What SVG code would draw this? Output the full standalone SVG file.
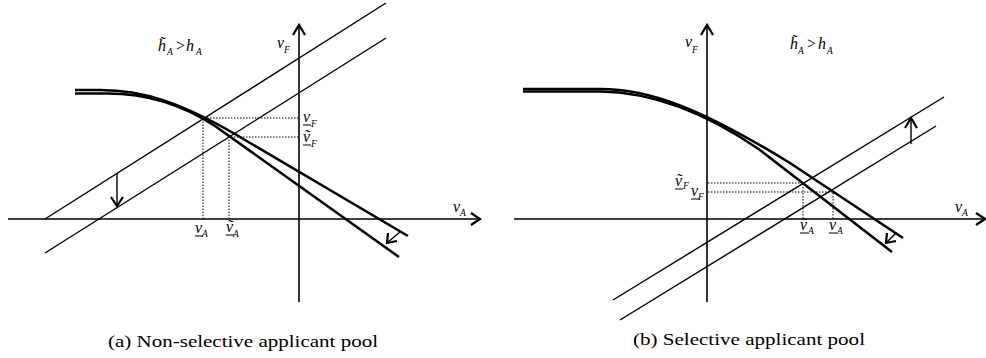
<svg xmlns="http://www.w3.org/2000/svg" width="986" height="358" viewBox="0 0 986 358">
<style>
.ln{stroke:#000;stroke-width:1.4;fill:none}
.ax{stroke:#000;stroke-width:1.6;fill:none}
.cv{stroke:#000;stroke-width:2.6;fill:none}
.dt{stroke:#000;stroke-width:1;stroke-dasharray:1.5 1.5;fill:none}
.ah{stroke:#000;stroke-width:2.2;fill:none;stroke-linejoin:miter}
.ul{stroke:#000;stroke-width:1;fill:none}
.m{font-family:"Liberation Serif",serif;font-style:italic;font-size:16px;fill:#000}
.s{font-size:9.5px}
.cap{font-family:"Liberation Serif",serif;font-size:17px;fill:#000}
</style>
<rect width="986" height="358" fill="#fff"/>

<g id="panel-a">
  <line class="ax" x1="8" y1="219" x2="479" y2="219"/>
  <polyline class="ah" points="471,213 480,219 471,225"/>
  <line class="ax" x1="299" y1="302" x2="299" y2="26"/>
  <polyline class="ah" points="293,35 299,25 305,35"/>
  <line class="ln" x1="45" y1="219" x2="386" y2="3"/>
  <line class="ln" x1="45" y1="253" x2="386" y2="38"/>
  <path class="cv" d="M75,90 L100,90 C140,90 180,100 250,143 L408,236"/>
  <path class="cv" d="M75,93.5 L105,93.5 C145,93 180,103 215,126 L399,257"/>
  <polyline class="dt" points="203,219 203,118 299,118"/>
  <polyline class="dt" points="229,219 229,137 299,137"/>
  <line class="ln" x1="117" y1="173" x2="117" y2="205"/>
  <polyline class="ah" points="111,197 117,206 123,197"/>
  <line class="ln" x1="400" y1="232" x2="388" y2="242"/>
  <polyline class="ah" points="388,233 387,243 397,241"/>

  <text class="m" x="158" y="51">h&#771;</text>
  <text class="m s" x="167" y="55">A</text>
  <text class="m" x="175" y="51">&gt;</text>
  <text class="m" x="186" y="51">h</text>
  <text class="m s" x="196" y="55">A</text>

  <text class="m" x="277" y="48">v</text>
  <text class="m s" x="284" y="53">F</text>

  <text class="m" x="303" y="122">v</text>
  <line class="ul" x1="303" y1="125" x2="311" y2="125"/>
  <text class="m s" x="311" y="127">F</text>

  <text class="m" x="303" y="142">v&#771;</text>
  <line class="ul" x1="303" y1="145" x2="311" y2="145"/>
  <text class="m s" x="311" y="147">F</text>

  <text class="m" x="195" y="233">v</text>
  <line class="ul" x1="195" y1="236" x2="203" y2="236"/>
  <text class="m s" x="202" y="237">A</text>

  <text class="m" x="226" y="232">v&#771;</text>
  <line class="ul" x1="226" y1="235" x2="234" y2="235"/>
  <text class="m s" x="233" y="237">A</text>

  <text class="m" x="453" y="212">v</text>
  <text class="m s" x="460" y="216">A</text>

  <text class="cap" x="108" y="347" textLength="270" lengthAdjust="spacingAndGlyphs">(a) Non-selective applicant pool</text>
</g>

<g id="panel-b">
  <line class="ax" x1="514" y1="219" x2="984" y2="219"/>
  <polyline class="ah" points="976,213 985,219 976,225"/>
  <line class="ax" x1="707" y1="302" x2="707" y2="26"/>
  <polyline class="ah" points="701,35 707,25 713,35"/>
  <line class="ln" x1="613" y1="300" x2="944" y2="97"/>
  <line class="ln" x1="620" y1="320" x2="936" y2="126"/>
  <path class="cv" d="M523,89 L600,89 C650,89 700,108 790,163 L903,238"/>
  <path class="cv" d="M523,91.5 L600,91.5 C650,92 705,112 760,150 L892,252"/>
  <polyline class="dt" points="708,183 803,183 803,219"/>
  <polyline class="dt" points="708,192 833,192 833,219"/>
  <line class="ln" x1="911" y1="144" x2="911" y2="119"/>
  <polyline class="ah" points="905,128 911,118 917,128"/>
  <line class="ln" x1="896" y1="233" x2="887" y2="242"/>
  <polyline class="ah" points="887,233 886,243 896,241"/>

  <text class="m" x="685" y="47">v</text>
  <text class="m s" x="692" y="53">F</text>

  <text class="m" x="790" y="49">h&#771;</text>
  <text class="m s" x="798" y="54">A</text>
  <text class="m" x="806" y="49">&gt;</text>
  <text class="m" x="818" y="49">h</text>
  <text class="m s" x="827" y="54">A</text>

  <text class="m" x="675" y="186">v&#771;</text>
  <line class="ul" x1="675" y1="189" x2="683" y2="189"/>
  <text class="m s" x="683" y="189">F</text>

  <text class="m" x="691" y="196">v</text>
  <line class="ul" x1="691" y1="199" x2="699" y2="199"/>
  <text class="m s" x="698" y="200">F</text>

  <text class="m" x="800" y="230">v&#771;</text>
  <line class="ul" x1="800" y1="233" x2="808" y2="233"/>
  <text class="m s" x="808" y="234">A</text>

  <text class="m" x="829" y="230">v</text>
  <line class="ul" x1="829" y1="233" x2="837" y2="233"/>
  <text class="m s" x="837" y="234">A</text>

  <text class="m" x="955" y="212">v</text>
  <text class="m s" x="962" y="216">A</text>

  <text class="cap" x="633" y="345" textLength="232" lengthAdjust="spacingAndGlyphs">(b) Selective applicant pool</text>
</g>
</svg>
